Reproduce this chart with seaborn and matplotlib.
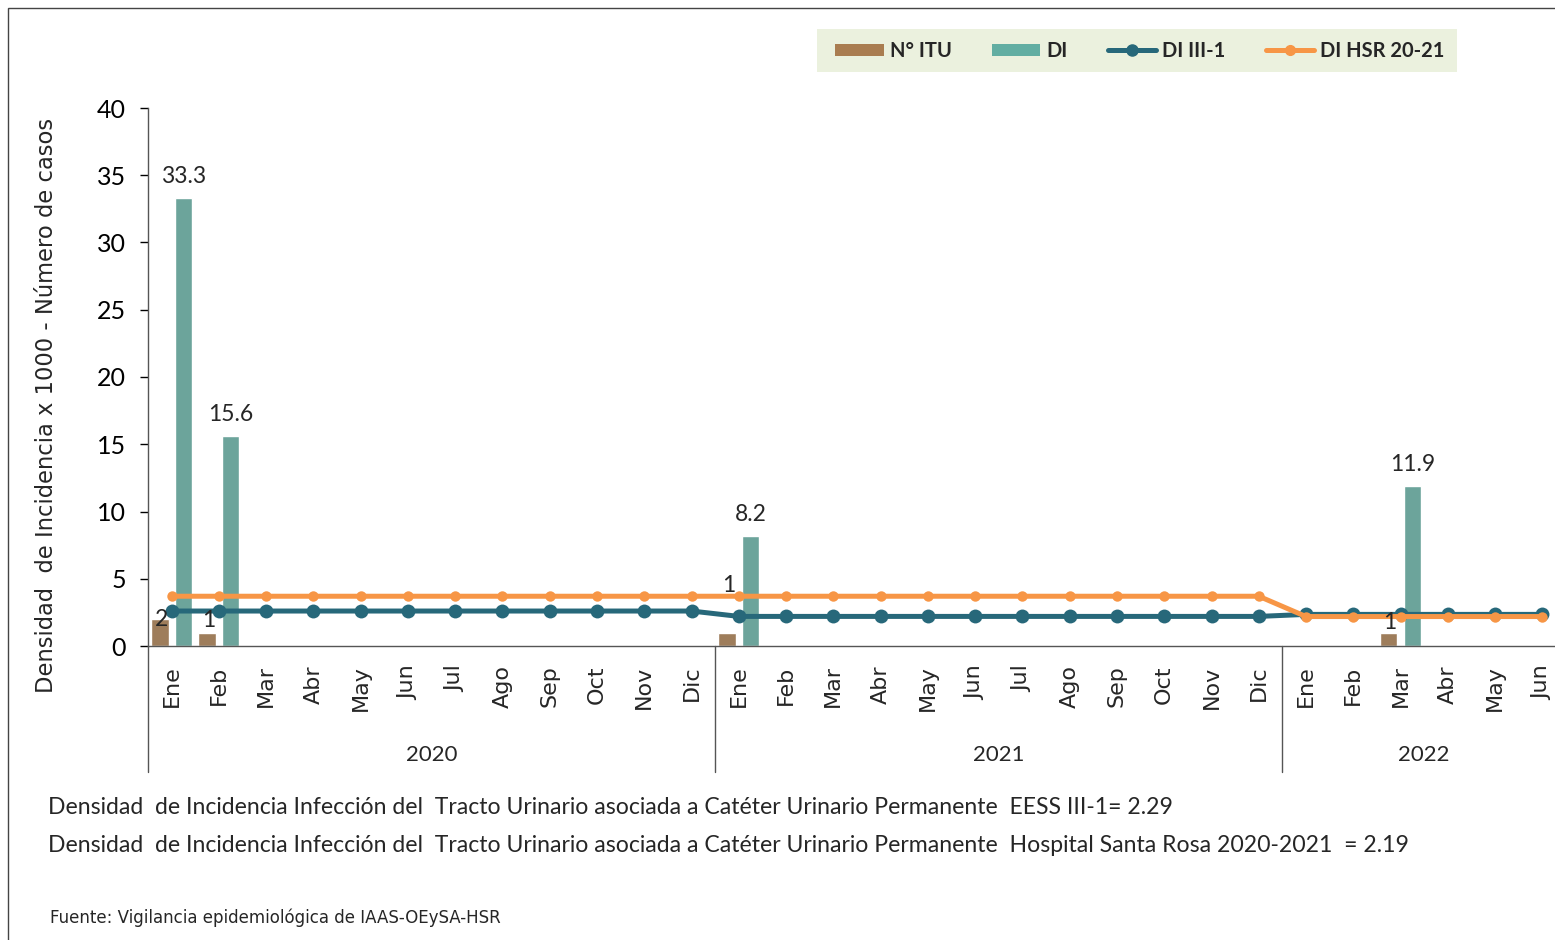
import matplotlib.pyplot as plt
import matplotlib.transforms as mtransforms
from matplotlib.patches import Patch, Rectangle
from matplotlib.lines import Line2D
import pandas as pd
import seaborn as sns

# Datos
meses = ['Ene', 'Feb', 'Mar', 'Abr', 'May', 'Jun', 'Jul', 'Ago', 'Sep', 'Oct', 'Nov', 'Dic',
         'Ene', 'Feb', 'Mar', 'Abr', 'May', 'Jun', 'Jul', 'Ago', 'Sep', 'Oct', 'Nov', 'Dic',
         'Ene', 'Feb', 'Mar', 'Abr', 'May', 'Jun']
anios = ['2020', '2021', '2022']
meses_por_anio = [12, 12, 6]

n_itu = [2, 1, 0, 0, 0, 0, 0, 0, 0, 0, 0, 0,
         1, 0, 0, 0, 0, 0, 0, 0, 0, 0, 0, 0,
         0, 0, 1, 0, 0, 0]
di = [33.3, 15.6, 0, 0, 0, 0, 0, 0, 0, 0, 0, 0,
      8.2, 0, 0, 0, 0, 0, 0, 0, 0, 0, 0, 0,
      0, 0, 11.9, 0, 0, 0]
di_iii1 = [2.6, 2.6, 2.6, 2.6, 2.6, 2.6, 2.6, 2.6, 2.6, 2.6, 2.6, 2.6,
           2.2, 2.2, 2.2, 2.2, 2.2, 2.2, 2.2, 2.2, 2.2, 2.2, 2.2, 2.2,
           2.35, 2.35, 2.35, 2.35, 2.35, 2.35]
di_hsr = [3.7, 3.7, 3.7, 3.7, 3.7, 3.7, 3.7, 3.7, 3.7, 3.7, 3.7, 3.7,
          3.7, 3.7, 3.7, 3.7, 3.7, 3.7, 3.7, 3.7, 3.7, 3.7, 3.7, 3.7,
          2.19, 2.19, 2.19, 2.19, 2.19, 2.19]

C_ITU = '#A97D50'
C_DI = '#62AEA2'
C_III = '#27687A'
C_HSR = '#F79646'

sns.set_style('white')
plt.rcParams['font.family'] = ['Lato', 'DejaVu Sans']

pos = list(range(len(meses)))
df_bar = pd.DataFrame({
    'pos': pos * 2,
    'serie': ['N° ITU'] * len(pos) + ['DI'] * len(pos),
    'valor': n_itu + di,
})

W, H = 1555, 940
fig = plt.figure(figsize=(W / 100, H / 100), dpi=100)
ax_w = 1418
ax = fig.add_axes([148 / W, 1 - 646 / H, ax_w / W, 538 / H])

sns.barplot(data=df_bar, x='pos', y='valor', hue='serie', order=pos,
            palette={'N° ITU': C_ITU, 'DI': C_DI}, width=1.0, gap=0.26,
            ax=ax, legend=False, zorder=2)

sns.lineplot(x=pos, y=di_iii1, color=C_III, lw=3.6, marker='o', markersize=10,
             markeredgewidth=0, ax=ax, zorder=3)
sns.lineplot(x=pos, y=di_hsr, color=C_HSR, lw=3.6, marker='o', markersize=7.5,
             markeredgewidth=0, ax=ax, zorder=4)

# etiquetas de valores
for i, v in enumerate(di):
    if v > 0:
        ax.annotate(f'{v:.1f}', (i + 0.25, v), xytext=(0, 8), textcoords='offset points',
                    ha='center', va='bottom', fontsize=16.5, zorder=5)
itu_offsets = [0, 9, 34, 7]
k = 0
for i, v in enumerate(n_itu):
    if v > 0:
        ax.annotate(str(v), (i - 0.25, v), xytext=(1, itu_offsets[k]), textcoords='offset points',
                    ha='center', va='center', fontsize=16.5, zorder=5)
        k += 1

ax.set_xlim(-0.5, len(meses) - 0.5)
ax.set_ylim(0, 40)
ax.set_yticks(range(0, 41, 5))
ax.tick_params(axis='y', labelsize=18, length=6, width=1, colors='black',
               direction='out', left=True, pad=10)
ax.set_xticks(pos)
ax.set_xticklabels(meses, rotation=90, fontsize=16, family='DejaVu Sans')
ax.tick_params(axis='x', length=0, pad=14)
ax.set_xlabel('')
ax.set_ylabel('Densidad  de Incidencia x 1000 - Número de casos', fontsize=16.3,
              family='DejaVu Sans')
ax.yaxis.set_label_coords(-(148 - 58) / ax_w, (646 - 405) / 538)
for s in ['top', 'right']:
    ax.spines[s].set_visible(False)
for s in ['left', 'bottom']:
    ax.spines[s].set_color('#555555')
    ax.spines[s].set_linewidth(1)

# separadores de años y etiquetas
trans = mtransforms.blended_transform_factory(ax.transData, ax.transAxes)
bottom_sep = -(772 - 646) / 538
inicio = -0.5
for anio, n in zip(anios, meses_por_anio):
    ax.plot([inicio, inicio], [0, bottom_sep], color='#555555', lw=1,
            transform=trans, clip_on=False)
    ax.text(inicio + n / 2, -(755 - 646) / 538, anio, transform=trans,
            ha='center', va='center', fontsize=16)
    inicio += n

# leyenda
fig.patches.append(Rectangle((817 / W, 1 - 72 / H), 640 / W, 43 / H, transform=fig.transFigure,
                             facecolor='#EBF1DE', edgecolor='none', zorder=0))
handles = [
    Patch(facecolor=C_ITU, edgecolor='none'),
    Patch(facecolor=C_DI, edgecolor='none'),
    Line2D([], [], color=C_III, lw=3.6, marker='o', markersize=8),
    Line2D([], [], color=C_HSR, lw=3.6, marker='o', markersize=7),
]
leg = fig.legend(handles, ['N° ITU', 'DI', 'DI III-1', 'DI HSR 20-21'], ncol=4,
                 loc='center', bbox_to_anchor=(1140 / W, 1 - 51 / H),
                 frameon=False, handlelength=2.4, handleheight=0.6, handletextpad=0.3,
                 columnspacing=2.0, prop={'weight': 'bold', 'size': 14.5})

# textos al pie
fig.text(48 / W, 1 - 808 / H,
         'Densidad  de Incidencia Infección del  Tracto Urinario asociada a Catéter Urinario Permanente  EESS III-1= 2.29',
         ha='left', va='center', fontsize=16.6)
fig.text(48 / W, 1 - 845 / H,
         'Densidad  de Incidencia Infección del  Tracto Urinario asociada a Catéter Urinario Permanente  Hospital Santa Rosa 2020-2021  = 2.19',
         ha='left', va='center', fontsize=16.6)
fig.text(50 / W, 1 - 918 / H, 'Fuente: Vigilancia epidemiológica de IAAS-OEySA-HSR',
         ha='left', va='center', fontsize=12, family='DejaVu Sans')

# marco exterior
fig.patches.append(Rectangle((8 / W, -0.01), 1.1, 1 - 8 / H + 0.01, transform=fig.transFigure,
                             fill=False, edgecolor='#444444', lw=1))

fig.savefig('out.png', dpi=100)
